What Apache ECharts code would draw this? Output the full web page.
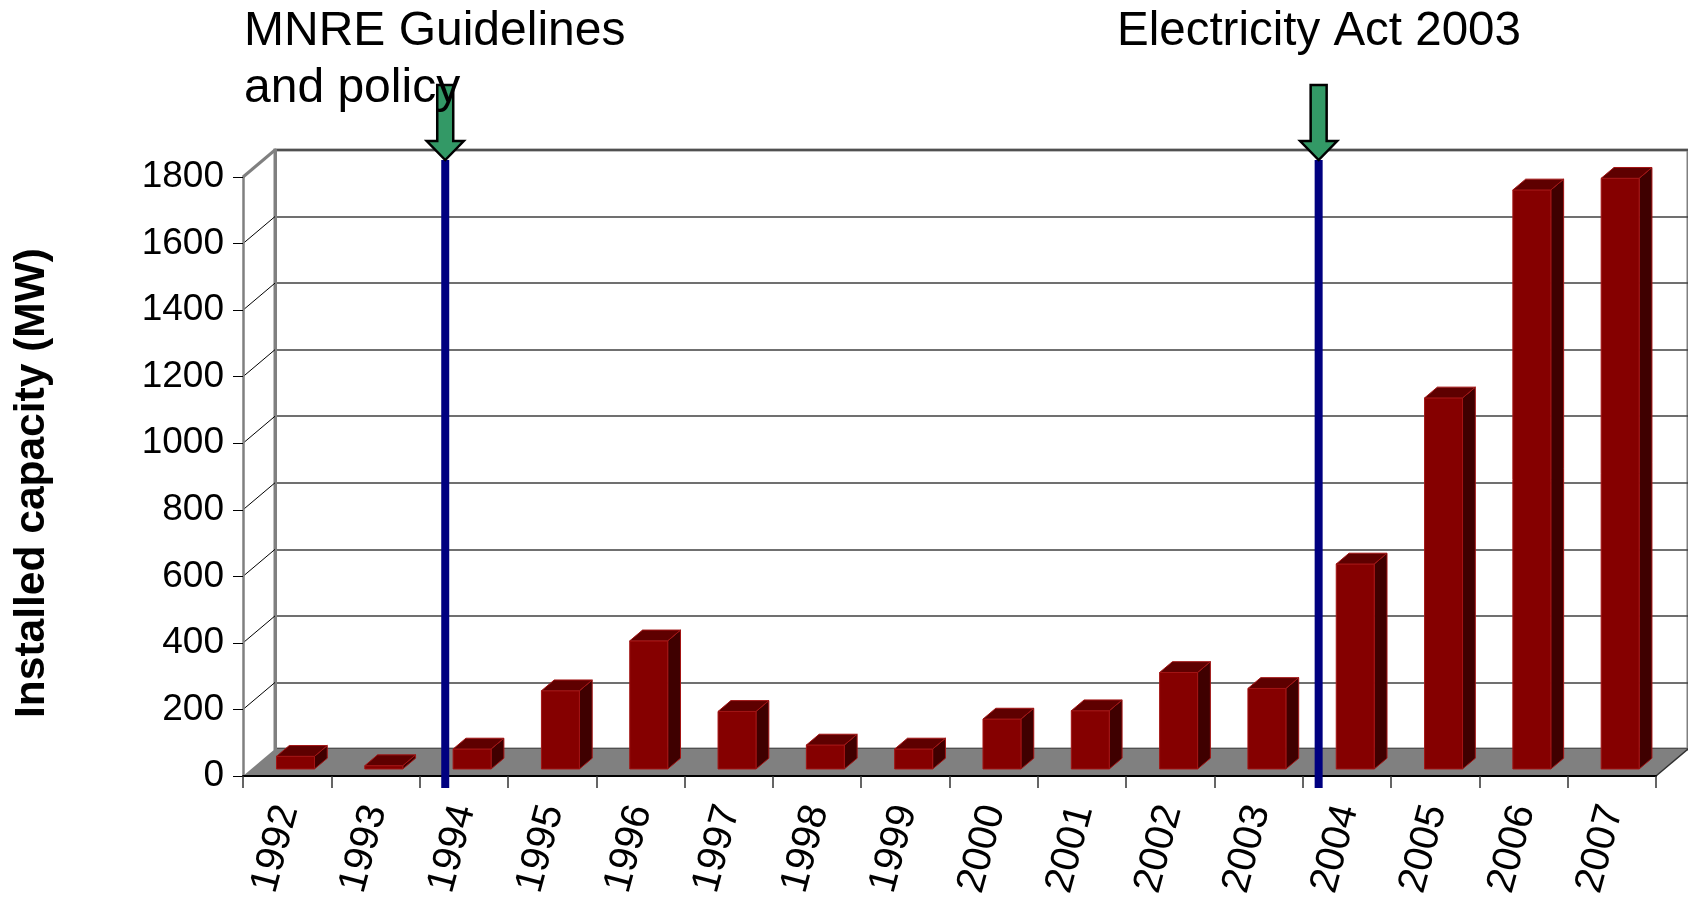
<!DOCTYPE html>
<html>
<head>
<meta charset="utf-8">
<title>Installed capacity (MW)</title>
<script src="https://cdn.jsdelivr.net/npm/echarts@6/dist/echarts.min.js"></script>
<style>
  html, body { margin: 0; padding: 0; background: #fff; }
  #chart { width: 1688px; height: 901px; }
</style>
</head>
<body>
<div id="chart"></div>
<script>
// ---- data ----
const years = ['1992', '1993', '1994', '1995', '1996', '1997', '1998', '1999',
               '2000', '2001', '2002', '2003', '2004', '2005', '2006', '2007'];
const capacityMW = [38, 10, 60, 235, 385, 173, 72, 60, 150, 175, 290, 242, 616, 1115, 1740, 1775];
const yTickValues = [0, 200, 400, 600, 800, 1000, 1200, 1400, 1600, 1800];
const eventLabels = ['MNRE Guidelines\nand policy', 'Electricity Act 2003'];
// event markers, in category units along the year axis (0 = left edge of 1992)
const eventPositions = [2.29, 12.18];

// ---- layout of the pseudo-3D box ----
const FONT = '"Liberation Sans", Arial, sans-serif';
const GRID = { left: 243, top: 177, width: 1413, height: 599 };
const DX = 32, DY = -27;          // offset from front plane to back wall
const F1 = 0.26, F2 = 0.66;       // depth range occupied by each column
const Y_MAX = 1800;

const chart = echarts.init(document.getElementById('chart'), null, { renderer: 'canvas' });

// Floor and left wall lines, drawn in front-plane pixels plus the depth offset
function renderWalls(params, api) {
  const cs = params.coordSys;
  const v = api.value(0);
  const y = api.coord([0, v])[1];
  const x = cs.x;
  if (v === 0) {
    const right = cs.x + cs.width;
    return {
      type: 'group',
      children: [
        { type: 'polygon', shape: { points: [[x, y], [right, y], [right + DX, y + DY], [x + DX, y + DY]] },
          style: { fill: '#808080', stroke: null } },
        { type: 'line', shape: { x1: right, y1: y, x2: right + DX, y2: y + DY },
          style: { stroke: '#303030', lineWidth: 1.5 } }
      ]
    };
  }
  const top = v === Y_MAX;
  return {
    type: 'line',
    shape: { x1: x, y1: y, x2: x + DX, y2: y + DY },
    style: { stroke: top ? '#808080' : '#000', lineWidth: top ? 3 : 1 }
  };
}

// Columns: front face, side face and top face
function renderColumn(params, api) {
  const i = api.value(0), v = api.value(1);
  const t = api.coord([i, v]);
  const b = api.coord([i, 0]);
  const band = api.size([1, 0])[0];
  const w = band * 0.43;
  const cx = t[0] + DX * F1;
  const l = cx - w / 2, r = cx + w / 2;
  const yb = b[1] + DY * F1, yt = t[1] + DY * F1;
  const ddx = DX * (F2 - F1), ddy = DY * (F2 - F1);
  const edge = '#a31515';
  return {
    type: 'group',
    children: [
      { type: 'polygon', shape: { points: [[r, yt], [r + ddx, yt + ddy], [r + ddx, yb + ddy], [r, yb]] },
        style: { fill: '#3f0000', stroke: edge, lineWidth: 1 } },
      { type: 'rect', shape: { x: l, y: yt, width: w, height: yb - yt },
        style: { fill: '#850000', stroke: edge, lineWidth: 1 } },
      { type: 'polygon', shape: { points: [[l, yt], [r, yt], [r + ddx, yt + ddy], [l + ddx, yt + ddy]] },
        style: { fill: '#5e0000', stroke: edge, lineWidth: 1 } }
    ]
  };
}

// Event marker: navy rule with a green arrow pointing down onto it
function renderEvent(params, api) {
  const pos = api.value(0);
  const base = api.coord([pos, 0]);
  const x = base[0];
  const tip = api.coord([pos, Y_MAX])[1] + DY + 10;
  const bottom = base[1] + 12;
  const headH = 19, headW = 37, shaftW = 16, shaftTop = tip - 75;
  return {
    type: 'group',
    children: [
      { type: 'line', shape: { x1: x, y1: tip, x2: x, y2: bottom },
        style: { stroke: '#000080', lineWidth: 8 } },
      { type: 'polygon',
        shape: { points: [
          [x - shaftW / 2, shaftTop], [x + shaftW / 2, shaftTop], [x + shaftW / 2, tip - headH],
          [x + headW / 2, tip - headH], [x, tip], [x - headW / 2, tip - headH], [x - shaftW / 2, tip - headH]
        ] },
        style: { fill: '#339966', stroke: '#000', lineWidth: 2.5, lineJoin: 'miter' } }
    ]
  };
}

const option = {
  backgroundColor: '#fff',
  animation: false,
  grid: [
    { left: GRID.left, top: GRID.top, width: GRID.width, height: GRID.height },
    { left: GRID.left + DX, top: GRID.top + DY, width: GRID.width + 1, height: GRID.height,
      show: true, borderColor: '#808080', borderWidth: 3, backgroundColor: '#fff' }
  ],
  xAxis: [
    {
      type: 'category', gridIndex: 0, data: years, boundaryGap: true, z: 10,
      axisLine: { lineStyle: { color: '#000', width: 2 } },
      axisTick: { show: true, length: 12, interval: 0, lineStyle: { color: '#333', width: 1.5 } },
      axisLabel: { interval: 0, rotate: 75, margin: 30, color: '#000', fontSize: 40, fontFamily: FONT }
    },
    { type: 'category', gridIndex: 1, data: years, show: false },
    { type: 'value', gridIndex: 0, min: 0, max: years.length, show: false, position: 'top' }
  ],
  yAxis: [
    {
      type: 'value', gridIndex: 0, min: 0, max: Y_MAX, interval: 200, z: 10,
      axisLine: { show: true, lineStyle: { color: '#808080', width: 2.5 } },
      axisTick: { show: true, length: 10, lineStyle: { color: '#000', width: 1 } },
      axisLabel: { margin: 19, color: '#000', fontSize: 37, fontFamily: FONT,
                   formatter: v => String(v) },
      splitLine: { show: false }
    },
    {
      type: 'value', gridIndex: 1, min: 0, max: Y_MAX, interval: 200,
      axisLine: { show: true, lineStyle: { color: '#808080', width: 3 } },
      axisTick: { show: false }, axisLabel: { show: false },
      splitLine: { show: true, lineStyle: { color: '#404040', width: 1.5 } }
    }
  ],
  graphic: [
    { type: 'text', left: 244, top: 3, z: 20,
      style: { text: eventLabels[0], font: '48px ' + FONT, lineHeight: 57, fill: '#000' } },
    { type: 'text', left: 1117, top: 3, z: 20,
      style: { text: eventLabels[1], font: '47.5px ' + FONT, lineHeight: 57, fill: '#000' } },
    { type: 'text', x: 32, y: 483, rotation: Math.PI / 2, z: 20,
      style: { text: 'Installed capacity (MW)', font: 'bold 42.5px ' + FONT, fill: '#000',
               align: 'center', verticalAlign: 'middle' } }
  ],
  series: [
    { type: 'custom', name: 'walls', xAxisIndex: 0, yAxisIndex: 0, z: 3, clip: false,
      data: yTickValues.map(v => [v]), renderItem: renderWalls },
    { type: 'custom', name: 'Installed capacity', xAxisIndex: 0, yAxisIndex: 0, z: 4, clip: false,
      encode: { x: 0, y: 1 },
      data: capacityMW.map((v, i) => [i, v]), renderItem: renderColumn },
    { type: 'custom', name: 'events', xAxisIndex: 2, yAxisIndex: 0, z: 12, clip: false,
      data: eventPositions.map(p => [p]), renderItem: renderEvent }
  ]
};

chart.setOption(option);
</script>
</body>
</html>
